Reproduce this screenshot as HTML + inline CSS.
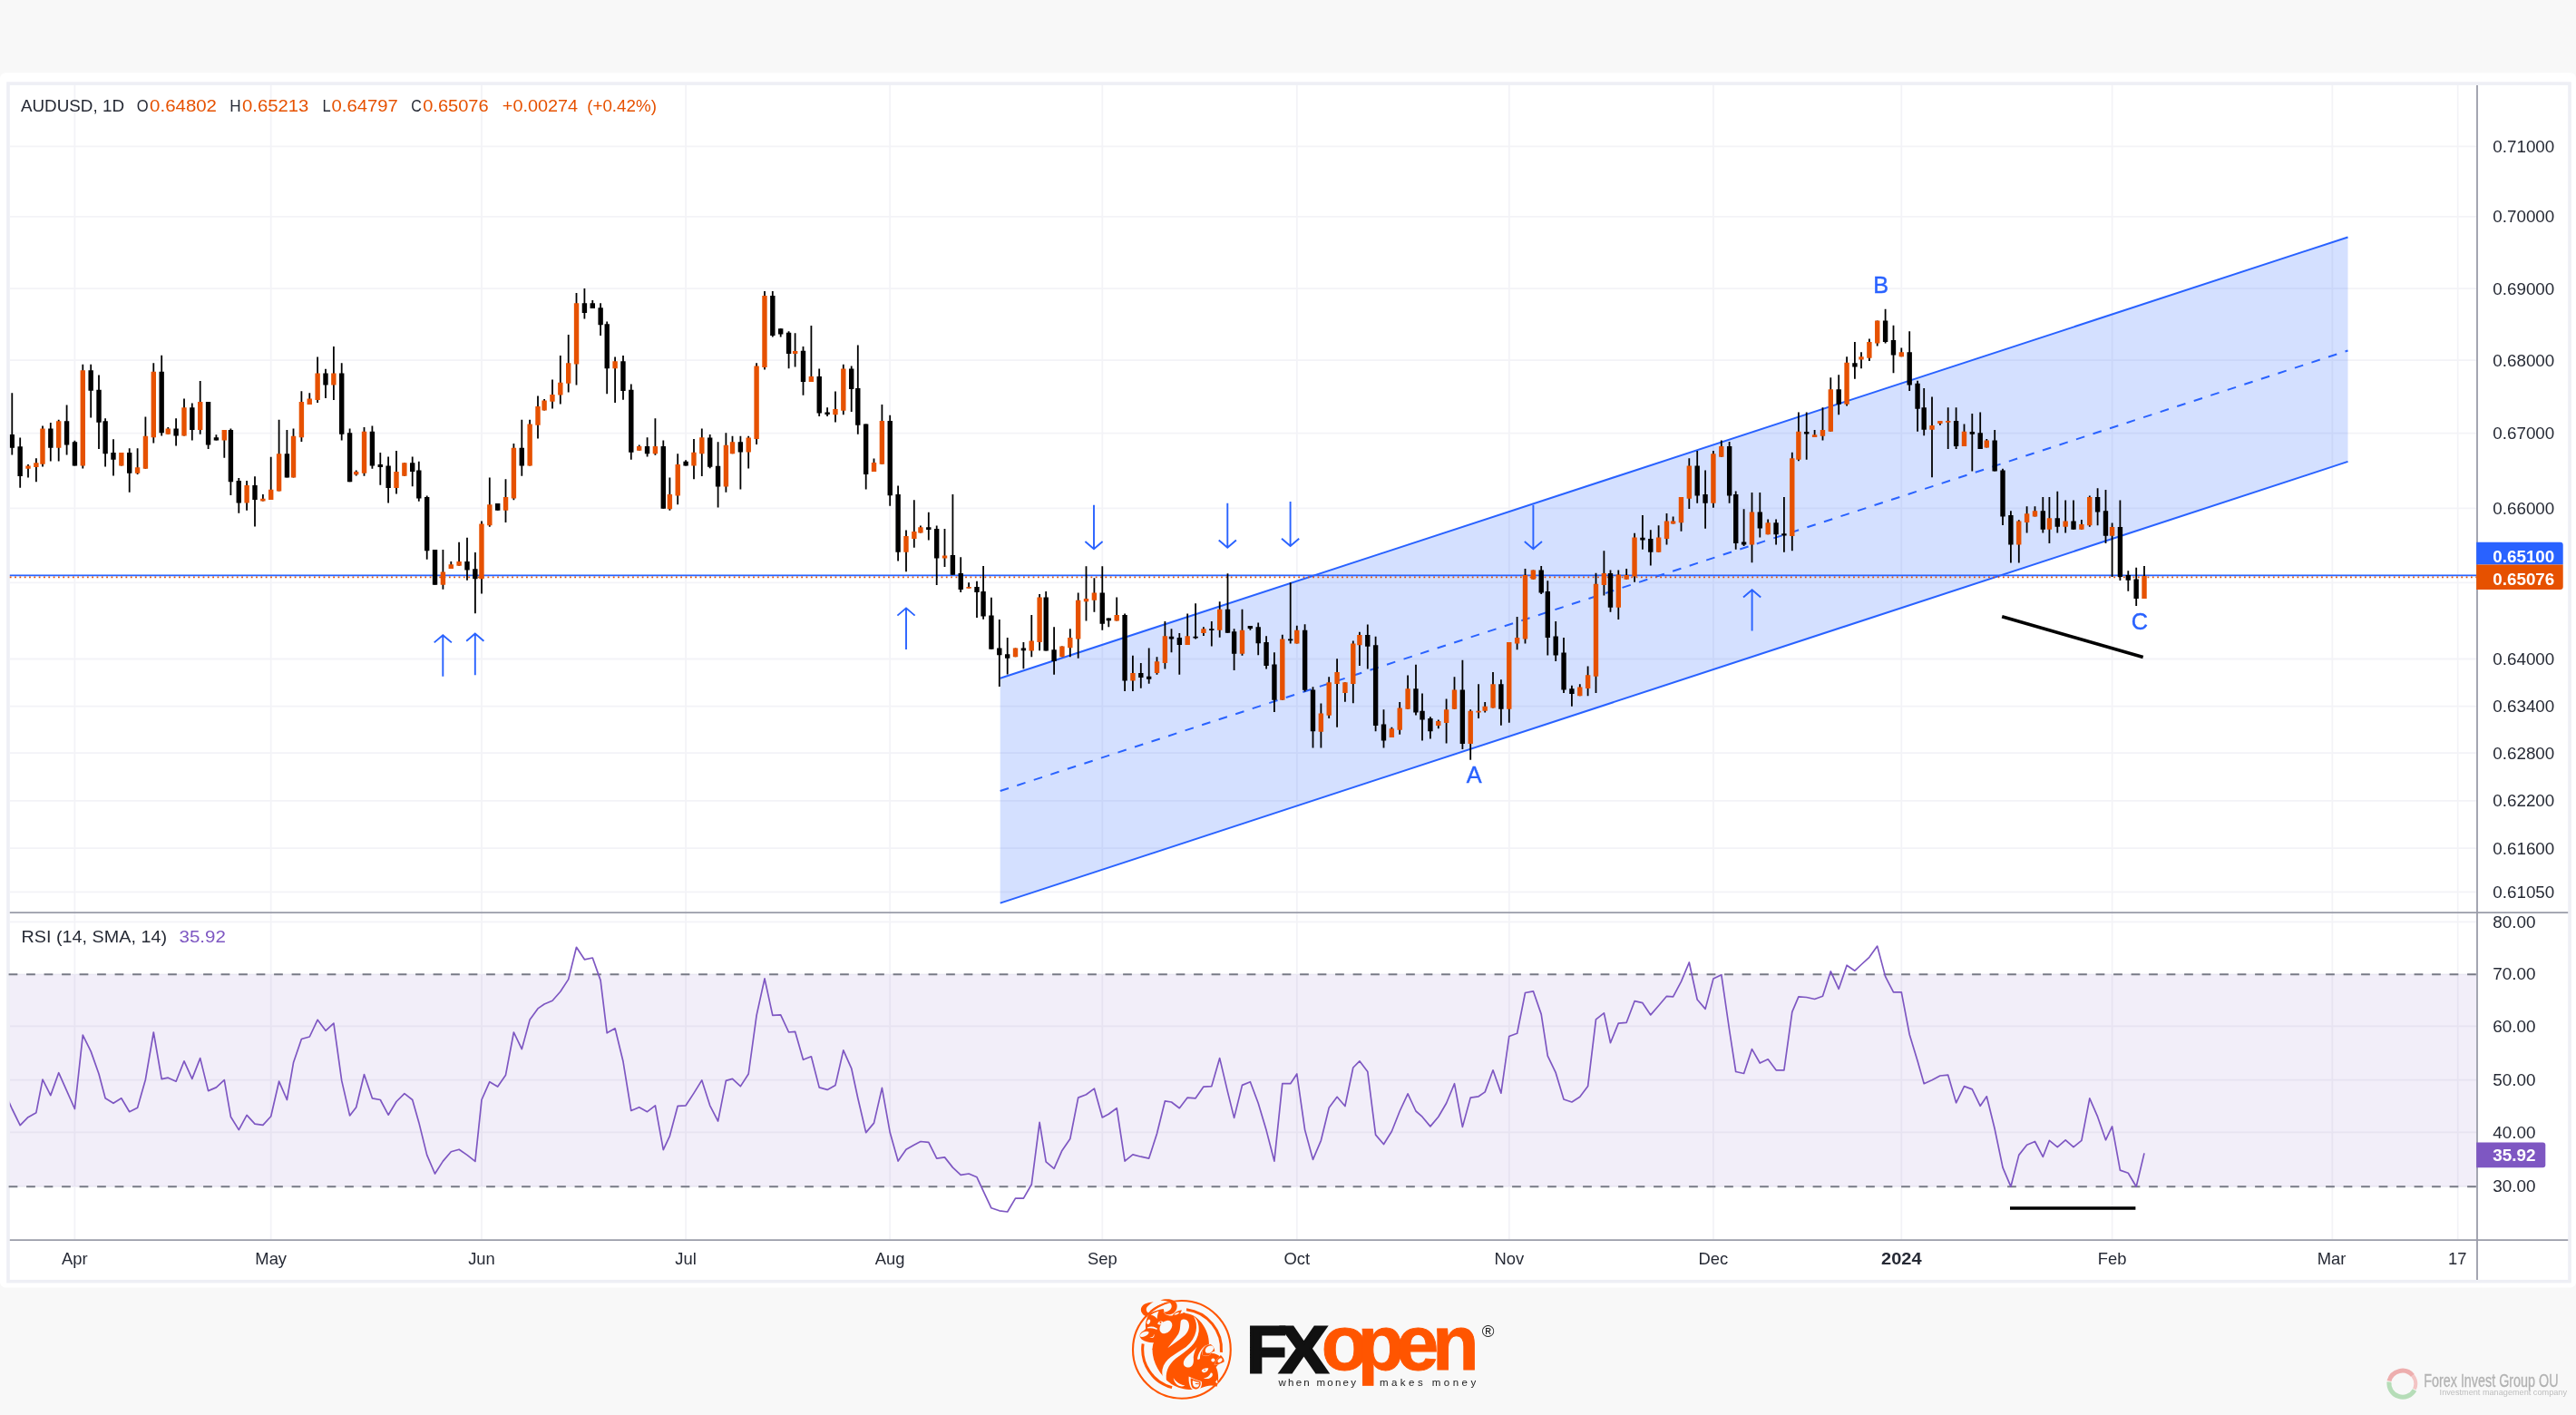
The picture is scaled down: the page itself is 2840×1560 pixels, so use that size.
<!DOCTYPE html>
<html lang="en"><head><meta charset="utf-8"><title>AUDUSD 1D chart</title>
<style>html,body{margin:0;padding:0;background:#f8f8f8;}body{width:2840px;height:1560px;overflow:hidden;font-family:"Liberation Sans", sans-serif;}svg{display:block;position:absolute;left:0;top:0;filter:blur(0.45px);}text{font-family:"Liberation Sans", sans-serif;}</style>
</head><body>
<svg width="2840" height="1560" viewBox="0 0 2840 1560">
<rect x="0" y="0" width="2840" height="1560" fill="#f8f8f8"/>
<rect x="0" y="80.3" width="2840" height="1339.2" rx="6" fill="#ffffff"/>
<rect x="9" y="92.1" width="2824" height="1320.6" fill="#ffffff" stroke="#eeeff5" stroke-width="3.6"/>
<g stroke="#f3f3f7" stroke-width="1.8" fill="none">
<line x1="82.4" y1="93.9" x2="82.4" y2="1366.5"/>
<line x1="298.7" y1="93.9" x2="298.7" y2="1366.5"/>
<line x1="531.0" y1="93.9" x2="531.0" y2="1366.5"/>
<line x1="756.1" y1="93.9" x2="756.1" y2="1366.5"/>
<line x1="981.2" y1="93.9" x2="981.2" y2="1366.5"/>
<line x1="1215.3" y1="93.9" x2="1215.3" y2="1366.5"/>
<line x1="1429.8" y1="93.9" x2="1429.8" y2="1366.5"/>
<line x1="1663.8" y1="93.9" x2="1663.8" y2="1366.5"/>
<line x1="1888.9" y1="93.9" x2="1888.9" y2="1366.5"/>
<line x1="2096.3" y1="93.9" x2="2096.3" y2="1366.5"/>
<line x1="2328.6" y1="93.9" x2="2328.6" y2="1366.5"/>
<line x1="2571.4" y1="93.9" x2="2571.4" y2="1366.5"/>
<line x1="2709.7" y1="93.9" x2="2709.7" y2="1366.5"/>
<line x1="10.8" y1="161.4" x2="2731.0" y2="161.4"/>
<line x1="10.8" y1="238.8" x2="2731.0" y2="238.8"/>
<line x1="10.8" y1="318.1" x2="2731.0" y2="318.1"/>
<line x1="10.8" y1="397.2" x2="2731.0" y2="397.2"/>
<line x1="10.8" y1="477.6" x2="2731.0" y2="477.6"/>
<line x1="10.8" y1="560.3" x2="2731.0" y2="560.3"/>
<line x1="10.8" y1="642.3" x2="2731.0" y2="642.3"/>
<line x1="10.8" y1="726.5" x2="2731.0" y2="726.5"/>
<line x1="10.8" y1="778.7" x2="2731.0" y2="778.7"/>
<line x1="10.8" y1="830.1" x2="2731.0" y2="830.1"/>
<line x1="10.8" y1="882.8" x2="2731.0" y2="882.8"/>
<line x1="10.8" y1="935.2" x2="2731.0" y2="935.2"/>
<line x1="10.8" y1="983.3" x2="2731.0" y2="983.3"/>
<line x1="10.8" y1="1016.4" x2="2731.0" y2="1016.4"/>
<line x1="10.8" y1="1074.2" x2="2731.0" y2="1074.2"/>
<line x1="10.8" y1="1131.3" x2="2731.0" y2="1131.3"/>
<line x1="10.8" y1="1190.6" x2="2731.0" y2="1190.6"/>
<line x1="10.8" y1="1248.4" x2="2731.0" y2="1248.4"/>
<line x1="10.8" y1="1308.2" x2="2731.0" y2="1308.2"/>
</g>
<rect x="10.8" y="1074.2" width="2719.2" height="234" fill="#7e57c2" fill-opacity="0.1"/>
<g stroke="#787b86" stroke-width="1.9" stroke-dasharray="9.75 9.75" fill="none">
<line x1="9.6" y1="1074.2" x2="2730.0" y2="1074.2"/>
<line x1="9.6" y1="1308.2" x2="2730.0" y2="1308.2"/>
</g>
<polygon points="1102.7,747.7 2588.5,261.5 2588.5,508.9 1102.7,995.6" fill="#2962ff" fill-opacity="0.2"/>
<g stroke="#2962ff" stroke-width="2" fill="none" stroke-linecap="butt">
<line x1="1102.7" y1="747.7" x2="2588.5" y2="261.5"/>
<line x1="1102.7" y1="995.6" x2="2588.5" y2="508.9"/>
<line x1="1102.7" y1="872" x2="2588.5" y2="386.5" stroke-dasharray="9.75 9.75"/>
</g>
<line x1="10.8" y1="634.4" x2="2731.0" y2="634.4" stroke="#2962ff" stroke-width="1.9"/>
<line x1="10.8" y1="636.3" x2="2731.0" y2="636.3" stroke="#e65100" stroke-width="1.8" stroke-dasharray="1.77 3.55"/>
<defs><clipPath id="cp"><rect x="10.8" y="93.9" width="2720.2" height="1272.1"/></clipPath></defs>
<g clip-path="url(#cp)">
<path d="M13.3 433.3 V501.6 M22.2 482.6 V537.8 M31.0 512.1 V526.4 M39.9 505.3 V531.3 M47.0 469.4 V514.6 M55.8 466.0 V508.4 M64.7 462.7 V508.4 M73.6 446.4 V501.6 M82.4 485.7 V513.4 M91.3 401.8 V516.5 M100.2 401.8 V460.5 M109.0 413.4 V495.0 M116.1 461.2 V514.6 M125.0 484.2 V524.6 M133.8 498.9 V513.4 M142.7 494.3 V542.8 M151.6 494.3 V523.0 M160.4 459.4 V516.8 M169.3 400.2 V488.5 M178.2 391.8 V480.6 M185.3 470.9 V478.7 M194.1 461.2 V491.6 M203.0 439.4 V480.6 M211.8 444.5 V485.4 M220.7 420.0 V478.7 M229.6 443.0 V495.0 M238.4 479.2 V485.4 M247.3 474.1 V504.8 M254.4 472.5 V546.0 M263.3 526.9 V565.8 M272.1 530.0 V562.7 M281.0 525.2 V580.5 M289.9 545.1 V552.6 M298.7 503.7 V551.0 M307.6 462.7 V541.4 M316.4 474.1 V526.4 M323.5 472.5 V526.4 M332.4 431.3 V487.0 M341.3 433.2 V446.1 M350.1 393.5 V444.0 M359.0 406.7 V439.1 M367.9 381.9 V440.9 M376.7 400.2 V485.4 M385.6 472.5 V531.3 M392.7 518.4 V524.6 M401.5 471.0 V524.8 M410.4 469.5 V516.8 M419.3 499.0 V534.7 M428.1 503.6 V554.6 M437.0 497.1 V544.5 M445.9 510.3 V524.8 M454.7 503.6 V536.3 M461.8 508.8 V552.8 M470.7 546.5 V616.8 M479.5 605.9 V644.8 M488.4 605.9 V649.8 M497.3 619.1 V626.9 M506.1 597.7 V623.8 M515.0 592.7 V639.8 M523.9 609.0 V676.2 M531.0 574.5 V654.6 M539.8 526.6 V580.7 M548.7 554.9 V562.7 M557.5 528.2 V575.9 M566.4 489.0 V551.2 M575.3 462.8 V524.8 M584.1 462.8 V513.4 M593.0 436.5 V483.4 M600.1 439.9 V452.4 M609.0 418.5 V450.5 M617.8 392.0 V445.5 M626.7 369.0 V432.5 M635.5 322.9 V424.4 M644.4 317.9 V351.6 M653.3 331.1 V340.1 M662.1 334.2 V370.0 M669.2 354.4 V434.2 M678.1 393.6 V444.1 M687.0 392.0 V440.7 M695.8 423.6 V506.7 M704.7 490.6 V496.8 M713.6 482.3 V503.6 M722.4 461.2 V501.8 M731.3 485.4 V560.8 M738.4 526.6 V562.7 M747.2 500.2 V556.2 M756.1 507.2 V513.4 M765.0 483.9 V528.2 M773.8 472.6 V525.1 M782.7 479.1 V516.3 M791.6 487.3 V559.4 M800.4 477.2 V542.8 M807.5 480.8 V500.2 M816.4 480.8 V539.6 M825.2 480.8 V516.4 M834.1 400.3 V490.1 M843.0 321.0 V407.6 M851.8 321.0 V371.5 M860.7 362.2 V371.5 M869.6 365.3 V406.2 M876.6 367.2 V404.6 M885.5 382.1 V435.7 M894.4 359.1 V420.9 M903.2 406.5 V458.9 M912.1 449.2 V458.9 M921.0 431.4 V465.6 M929.8 401.8 V457.3 M938.7 403.4 V453.9 M945.8 380.4 V478.8 M954.7 467.4 V539.6 M963.5 505.4 V519.9 M972.4 446.1 V511.7 M981.2 457.8 V557.8 M990.1 535.4 V618.6 M999.0 584.4 V630.3 M1007.8 551.3 V603.8 M1014.9 579.6 V587.5 M1023.8 564.8 V595.6 M1032.7 579.6 V645.0 M1041.5 582.9 V625.1 M1050.4 545.1 V633.7 M1059.2 614.3 V653.1 M1068.1 642.2 V648.5 M1077.0 640.7 V681.1 M1084.1 624.1 V682.7 M1092.9 658.7 V715.7 M1101.8 683.1 V756.9 M1110.7 703.0 V743.4 M1119.5 714.5 V724.3 M1128.4 707.9 V737.2 M1137.3 678.1 V724.3 M1146.1 655.1 V717.3 M1153.2 652.0 V717.6 M1162.1 691.2 V743.7 M1170.9 712.6 V724.3 M1179.8 693.2 V724.3 M1188.7 653.5 V725.8 M1197.5 624.3 V684.6 M1206.4 637.2 V674.8 M1215.3 624.3 V694.7 M1222.3 681.5 V691.2 M1231.2 658.5 V684.6 M1240.1 676.5 V761.9 M1248.9 722.7 V761.9 M1257.8 730.9 V758.8 M1266.7 714.5 V753.8 M1275.5 724.3 V743.7 M1284.4 685.1 V737.5 M1291.5 693.2 V719.3 M1300.3 698.1 V743.7 M1309.2 676.5 V711.0 M1318.1 665.2 V704.5 M1326.9 691.2 V700.9 M1335.8 685.1 V712.6 M1344.7 663.3 V702.8 M1353.5 632.2 V697.8 M1360.6 693.2 V739.0 M1369.5 671.7 V722.7 M1378.4 690.1 V694.7 M1387.2 686.5 V722.2 M1396.1 701.3 V737.5 M1404.9 719.3 V784.9 M1413.8 699.7 V771.7 M1422.7 642.2 V709.5 M1429.8 689.8 V709.5 M1438.6 688.2 V762.4 M1447.5 757.2 V824.5 M1456.4 775.6 V824.5 M1465.2 746.2 V791.9 M1474.1 726.3 V801.7 M1482.9 752.2 V773.7 M1491.8 706.5 V775.3 M1498.9 696.7 V734.1 M1507.8 688.5 V737.6 M1516.6 701.7 V806.3 M1525.5 782.2 V824.5 M1534.4 801.7 V813.0 M1543.2 774.0 V809.8 M1552.1 744.5 V781.8 M1561.0 732.8 V788.5 M1568.0 764.4 V816.4 M1576.9 790.3 V814.6 M1585.8 793.6 V803.2 M1594.6 770.6 V819.6 M1603.5 746.2 V781.8 M1612.4 727.8 V826.1 M1621.2 782.2 V837.7 M1630.1 754.3 V791.9 M1637.2 774.0 V785.4 M1646.0 741.0 V780.4 M1654.9 749.3 V799.8 M1663.8 708.1 V796.7 M1672.6 680.1 V716.2 M1681.5 627.0 V709.6 M1690.4 628.6 V638.7 M1699.2 623.9 V655.0 M1706.3 640.2 V722.4 M1715.2 685.1 V729.1 M1724.0 703.0 V763.9 M1732.9 755.8 V778.8 M1741.8 754.3 V767.2 M1750.6 734.5 V767.2 M1759.5 631.7 V763.9 M1768.4 607.3 V656.6 M1775.5 628.6 V674.7 M1784.3 628.6 V683.0 M1793.2 627.0 V638.7 M1802.1 587.7 V641.8 M1810.9 567.9 V605.7 M1819.8 584.3 V623.6 M1828.6 579.3 V608.8 M1837.5 566.1 V600.6 M1844.6 569.5 V577.6 M1853.5 548.0 V585.8 M1862.3 505.3 V560.9 M1871.2 496.9 V554.7 M1880.1 518.5 V582.7 M1888.9 496.9 V559.7 M1897.8 485.5 V503.7 M1906.6 487.1 V554.7 M1913.7 541.5 V605.7 M1922.6 561.3 V602.1 M1931.5 543.1 V620.3 M1940.3 543.1 V592.5 M1949.2 572.6 V589.2 M1958.1 572.6 V600.6 M1966.9 548.0 V608.8 M1975.8 498.8 V607.3 M1982.9 454.4 V508.3 M1991.7 454.4 V506.8 M2000.6 474.1 V481.9 M2009.5 449.2 V485.5 M2018.3 416.3 V475.7 M2027.2 413.2 V457.3 M2036.1 393.3 V447.4 M2044.9 377.0 V417.7 M2052.0 388.3 V406.2 M2060.9 373.5 V397.9 M2069.7 353.6 V381.6 M2078.6 340.7 V378.5 M2087.5 358.8 V411.2 M2096.3 383.5 V393.3 M2105.2 365.3 V431.1 M2114.1 419.7 V475.7 M2121.2 427.9 V480.3 M2130.0 437.6 V526.3 M2138.9 464.0 V468.7 M2147.7 449.2 V495.1 M2156.6 449.2 V495.1 M2165.5 467.6 V492.0 M2174.3 455.9 V519.6 M2183.2 454.4 V495.1 M2190.3 483.9 V493.5 M2199.2 474.1 V519.6 M2208.0 516.8 V579.0 M2216.9 563.2 V620.4 M2225.8 573.3 V620.4 M2234.6 558.2 V587.6 M2243.5 558.2 V569.4 M2252.3 548.1 V587.6 M2259.4 548.1 V598.9 M2268.3 541.7 V587.6 M2277.2 551.5 V587.6 M2286.0 551.5 V583.8 M2294.9 573.0 V583.8 M2303.8 546.5 V580.7 M2312.6 538.3 V579.2 M2321.5 539.9 V598.9 M2328.6 576.4 V635.9 M2337.4 551.5 V640.1 M2346.3 629.2 V651.8 M2355.2 625.7 V668.1 M2364.0 624.1 V659.9" stroke="#000" stroke-width="1.8" fill="none"/>
<path d="M28.32 513.4 h5.4 v3.4 h-5.4 z M37.19 510.3 h5.4 v4.6 h-5.4 z M44.28 472.5 h5.4 v39.3 h-5.4 z M62.01 464.3 h5.4 v29.5 h-5.4 z M88.60 408.3 h5.4 v105.1 h-5.4 z M131.15 498.9 h5.4 v14.5 h-5.4 z M148.87 515.3 h5.4 v6.5 h-5.4 z M157.74 480.7 h5.4 v36.1 h-5.4 z M166.60 409.8 h5.4 v72.5 h-5.4 z M182.56 472.5 h5.4 v6.2 h-5.4 z M200.29 449.2 h5.4 v31.4 h-5.4 z M218.01 443.0 h5.4 v31.1 h-5.4 z M244.61 474.1 h5.4 v11.3 h-5.4 z M269.42 535.0 h5.4 v19.4 h-5.4 z M287.15 549.8 h5.4 v2.8 h-5.4 z M296.02 539.8 h5.4 v11.2 h-5.4 z M304.88 500.2 h5.4 v41.2 h-5.4 z M320.84 480.7 h5.4 v45.7 h-5.4 z M329.70 443.0 h5.4 v39.3 h-5.4 z M338.56 439.4 h5.4 v6.7 h-5.4 z M347.43 411.4 h5.4 v29.5 h-5.4 z M365.16 411.4 h5.4 v13.2 h-5.4 z M389.98 519.9 h5.4 v3.4 h-5.4 z M398.84 475.7 h5.4 v46.0 h-5.4 z M434.30 520.1 h5.4 v17.9 h-5.4 z M443.16 510.3 h5.4 v14.5 h-5.4 z M485.71 630.5 h5.4 v14.3 h-5.4 z M494.57 622.2 h5.4 v4.7 h-5.4 z M503.43 619.1 h5.4 v4.7 h-5.4 z M528.25 577.6 h5.4 v60.7 h-5.4 z M537.12 556.2 h5.4 v23.0 h-5.4 z M554.85 548.1 h5.4 v14.6 h-5.4 z M563.71 493.7 h5.4 v55.9 h-5.4 z M581.44 467.6 h5.4 v45.8 h-5.4 z M590.30 448.0 h5.4 v20.7 h-5.4 z M597.39 441.5 h5.4 v10.9 h-5.4 z M606.26 434.9 h5.4 v7.8 h-5.4 z M615.12 421.7 h5.4 v13.9 h-5.4 z M623.98 400.3 h5.4 v22.5 h-5.4 z M632.85 334.2 h5.4 v67.2 h-5.4 z M675.40 398.3 h5.4 v7.9 h-5.4 z M701.99 492.1 h5.4 v4.7 h-5.4 z M719.72 492.1 h5.4 v8.1 h-5.4 z M735.67 545.0 h5.4 v16.2 h-5.4 z M744.54 511.9 h5.4 v34.6 h-5.4 z M762.26 498.7 h5.4 v14.7 h-5.4 z M771.13 482.3 h5.4 v17.9 h-5.4 z M797.72 490.8 h5.4 v45.7 h-5.4 z M804.81 487.3 h5.4 v12.9 h-5.4 z M822.54 482.4 h5.4 v16.1 h-5.4 z M831.40 403.4 h5.4 v80.5 h-5.4 z M840.27 326.0 h5.4 v78.9 h-5.4 z M873.95 387.1 h5.4 v2.8 h-5.4 z M891.68 415.0 h5.4 v5.9 h-5.4 z M918.27 451.1 h5.4 v6.2 h-5.4 z M927.13 406.5 h5.4 v46.2 h-5.4 z M960.82 510.1 h5.4 v9.8 h-5.4 z M969.68 464.0 h5.4 v47.7 h-5.4 z M996.27 590.9 h5.4 v17.9 h-5.4 z M1005.14 586.0 h5.4 v8.1 h-5.4 z M1012.23 581.2 h5.4 v6.3 h-5.4 z M1038.82 612.4 h5.4 v3.1 h-5.4 z M1065.41 646.9 h5.4 v1.8 h-5.4 z M1116.82 714.5 h5.4 v9.8 h-5.4 z M1134.55 706.4 h5.4 v11.2 h-5.4 z M1143.42 658.5 h5.4 v49.4 h-5.4 z M1168.23 712.6 h5.4 v11.7 h-5.4 z M1177.10 703.0 h5.4 v11.2 h-5.4 z M1185.96 661.8 h5.4 v42.6 h-5.4 z M1194.83 660.1 h5.4 v3.1 h-5.4 z M1203.69 653.5 h5.4 v8.3 h-5.4 z M1228.51 678.1 h5.4 v6.5 h-5.4 z M1246.24 742.1 h5.4 v8.3 h-5.4 z M1272.83 729.2 h5.4 v12.9 h-5.4 z M1281.69 701.3 h5.4 v29.6 h-5.4 z M1306.51 701.3 h5.4 v9.7 h-5.4 z M1324.24 693.2 h5.4 v4.9 h-5.4 z M1341.97 671.7 h5.4 v23.0 h-5.4 z M1366.79 694.7 h5.4 v26.1 h-5.4 z M1411.11 704.5 h5.4 v67.2 h-5.4 z M1427.06 694.7 h5.4 v14.8 h-5.4 z M1453.66 786.4 h5.4 v20.3 h-5.4 z M1462.52 752.2 h5.4 v36.6 h-5.4 z M1471.38 741.0 h5.4 v13.0 h-5.4 z M1480.25 752.2 h5.4 v11.7 h-5.4 z M1489.11 709.6 h5.4 v44.4 h-5.4 z M1496.20 699.9 h5.4 v11.3 h-5.4 z M1531.66 803.2 h5.4 v9.8 h-5.4 z M1540.52 780.4 h5.4 v24.4 h-5.4 z M1549.39 759.2 h5.4 v22.6 h-5.4 z M1583.07 795.1 h5.4 v5.0 h-5.4 z M1591.93 782.2 h5.4 v14.8 h-5.4 z M1600.80 760.5 h5.4 v21.3 h-5.4 z M1618.53 783.8 h5.4 v36.1 h-5.4 z M1627.39 783.8 h5.4 v1.8 h-5.4 z M1634.48 778.8 h5.4 v5.0 h-5.4 z M1643.34 754.3 h5.4 v26.1 h-5.4 z M1661.07 708.1 h5.4 v73.7 h-5.4 z M1669.94 703.0 h5.4 v6.6 h-5.4 z M1678.80 634.0 h5.4 v70.5 h-5.4 z M1687.66 628.6 h5.4 v10.1 h-5.4 z M1739.08 757.4 h5.4 v9.8 h-5.4 z M1747.94 744.2 h5.4 v14.7 h-5.4 z M1756.80 643.8 h5.4 v101.9 h-5.4 z M1765.67 632.0 h5.4 v12.9 h-5.4 z M1781.62 633.5 h5.4 v36.3 h-5.4 z M1790.49 634.0 h5.4 v4.7 h-5.4 z M1799.35 592.5 h5.4 v43.1 h-5.4 z M1825.94 592.5 h5.4 v16.3 h-5.4 z M1834.81 574.5 h5.4 v19.6 h-5.4 z M1841.90 574.5 h5.4 v3.1 h-5.4 z M1850.76 548.0 h5.4 v28.2 h-5.4 z M1859.63 513.5 h5.4 v36.3 h-5.4 z M1886.22 500.3 h5.4 v54.4 h-5.4 z M1895.08 492.1 h5.4 v11.6 h-5.4 z M1928.77 564.5 h5.4 v36.1 h-5.4 z M1946.49 576.2 h5.4 v13.0 h-5.4 z M1973.09 505.3 h5.4 v85.6 h-5.4 z M1980.18 475.7 h5.4 v31.1 h-5.4 z M1997.90 479.2 h5.4 v2.7 h-5.4 z M2006.77 474.1 h5.4 v6.7 h-5.4 z M2015.63 429.3 h5.4 v46.4 h-5.4 z M2033.36 399.8 h5.4 v46.0 h-5.4 z M2049.32 393.3 h5.4 v3.1 h-5.4 z M2058.18 377.0 h5.4 v17.8 h-5.4 z M2067.04 353.6 h5.4 v24.9 h-5.4 z M2093.64 388.3 h5.4 v5.0 h-5.4 z M2127.32 469.1 h5.4 v4.7 h-5.4 z M2136.18 464.0 h5.4 v3.1 h-5.4 z M2145.05 464.0 h5.4 v1.8 h-5.4 z M2162.78 475.7 h5.4 v16.3 h-5.4 z M2187.59 485.5 h5.4 v8.0 h-5.4 z M2223.05 574.5 h5.4 v26.0 h-5.4 z M2231.91 566.3 h5.4 v9.8 h-5.4 z M2240.78 563.2 h5.4 v6.2 h-5.4 z M2256.73 571.3 h5.4 v12.5 h-5.4 z M2274.46 574.5 h5.4 v6.2 h-5.4 z M2292.19 577.9 h5.4 v5.9 h-5.4 z M2301.05 548.1 h5.4 v31.1 h-5.4 z M2325.87 581.0 h5.4 v9.7 h-5.4 z M2361.33 635.1 h5.4 v24.8 h-5.4 z" fill="#e65100"/>
<path d="M10.60 479.0 h5.4 v14.8 h-5.4 z M19.46 492.2 h5.4 v32.7 h-5.4 z M53.14 472.5 h5.4 v21.3 h-5.4 z M70.87 464.3 h5.4 v26.1 h-5.4 z M79.74 487.3 h5.4 v26.1 h-5.4 z M97.46 408.3 h5.4 v22.5 h-5.4 z M106.33 429.7 h5.4 v36.1 h-5.4 z M113.42 464.3 h5.4 v35.9 h-5.4 z M122.28 498.9 h5.4 v7.8 h-5.4 z M140.01 498.9 h5.4 v22.9 h-5.4 z M175.47 409.8 h5.4 v67.4 h-5.4 z M191.42 472.5 h5.4 v8.1 h-5.4 z M209.15 449.2 h5.4 v24.9 h-5.4 z M226.88 443.0 h5.4 v47.4 h-5.4 z M235.74 482.3 h5.4 v3.1 h-5.4 z M251.70 474.1 h5.4 v57.2 h-5.4 z M260.56 530.0 h5.4 v24.4 h-5.4 z M278.29 535.0 h5.4 v16.0 h-5.4 z M313.74 500.2 h5.4 v26.2 h-5.4 z M356.29 411.4 h5.4 v13.2 h-5.4 z M374.02 411.4 h5.4 v67.3 h-5.4 z M382.88 477.2 h5.4 v54.1 h-5.4 z M407.70 475.7 h5.4 v37.7 h-5.4 z M416.57 511.9 h5.4 v3.1 h-5.4 z M425.43 513.4 h5.4 v24.6 h-5.4 z M452.02 510.3 h5.4 v9.8 h-5.4 z M459.11 518.6 h5.4 v31.0 h-5.4 z M467.98 548.1 h5.4 v59.1 h-5.4 z M476.84 605.9 h5.4 v38.9 h-5.4 z M512.30 619.1 h5.4 v9.4 h-5.4 z M521.16 627.2 h5.4 v11.1 h-5.4 z M545.98 554.9 h5.4 v7.8 h-5.4 z M572.57 493.7 h5.4 v19.7 h-5.4 z M641.71 334.2 h5.4 v10.9 h-5.4 z M650.58 334.2 h5.4 v5.9 h-5.4 z M659.44 339.2 h5.4 v19.1 h-5.4 z M666.53 357.2 h5.4 v49.0 h-5.4 z M684.26 398.3 h5.4 v32.6 h-5.4 z M693.12 429.8 h5.4 v68.9 h-5.4 z M710.85 492.1 h5.4 v8.1 h-5.4 z M728.58 492.1 h5.4 v68.7 h-5.4 z M753.40 508.8 h5.4 v4.6 h-5.4 z M779.99 482.4 h5.4 v32.4 h-5.4 z M788.86 513.8 h5.4 v22.7 h-5.4 z M813.67 487.3 h5.4 v11.2 h-5.4 z M849.13 326.0 h5.4 v44.0 h-5.4 z M857.99 362.2 h5.4 v6.2 h-5.4 z M866.86 366.8 h5.4 v23.1 h-5.4 z M882.81 386.7 h5.4 v34.2 h-5.4 z M900.54 415.0 h5.4 v40.5 h-5.4 z M909.41 454.4 h5.4 v2.6 h-5.4 z M936.00 406.5 h5.4 v22.5 h-5.4 z M943.09 427.9 h5.4 v40.8 h-5.4 z M951.95 467.4 h5.4 v55.6 h-5.4 z M978.54 464.0 h5.4 v82.3 h-5.4 z M987.41 545.1 h5.4 v63.7 h-5.4 z M1021.09 581.2 h5.4 v2.7 h-5.4 z M1029.96 582.9 h5.4 v32.6 h-5.4 z M1047.68 611.9 h5.4 v21.8 h-5.4 z M1056.55 632.1 h5.4 v17.9 h-5.4 z M1074.28 646.9 h5.4 v6.2 h-5.4 z M1081.37 652.0 h5.4 v27.6 h-5.4 z M1090.23 678.4 h5.4 v37.3 h-5.4 z M1099.10 714.5 h5.4 v7.7 h-5.4 z M1107.96 721.2 h5.4 v4.6 h-5.4 z M1125.69 714.5 h5.4 v2.8 h-5.4 z M1150.51 658.5 h5.4 v59.1 h-5.4 z M1159.37 716.2 h5.4 v12.7 h-5.4 z M1212.55 653.5 h5.4 v34.2 h-5.4 z M1219.65 681.5 h5.4 v2.8 h-5.4 z M1237.37 678.1 h5.4 v72.3 h-5.4 z M1255.10 742.1 h5.4 v5.0 h-5.4 z M1263.97 745.7 h5.4 v3.1 h-5.4 z M1288.78 701.7 h5.4 v2.8 h-5.4 z M1297.65 703.0 h5.4 v8.0 h-5.4 z M1315.38 701.7 h5.4 v1.8 h-5.4 z M1333.10 693.2 h5.4 v1.8 h-5.4 z M1350.83 671.7 h5.4 v26.1 h-5.4 z M1357.92 696.3 h5.4 v24.5 h-5.4 z M1375.65 690.1 h5.4 v2.8 h-5.4 z M1384.52 691.2 h5.4 v18.0 h-5.4 z M1393.38 707.9 h5.4 v26.2 h-5.4 z M1402.24 732.5 h5.4 v39.2 h-5.4 z M1419.97 704.5 h5.4 v1.8 h-5.4 z M1435.93 694.7 h5.4 v66.1 h-5.4 z M1444.79 760.5 h5.4 v45.7 h-5.4 z M1505.07 699.9 h5.4 v12.9 h-5.4 z M1513.93 711.2 h5.4 v88.9 h-5.4 z M1522.79 798.6 h5.4 v17.8 h-5.4 z M1558.25 759.2 h5.4 v26.2 h-5.4 z M1565.34 783.8 h5.4 v9.8 h-5.4 z M1574.21 792.0 h5.4 v14.3 h-5.4 z M1609.66 760.5 h5.4 v59.4 h-5.4 z M1652.21 754.3 h5.4 v27.5 h-5.4 z M1696.53 628.6 h5.4 v24.8 h-5.4 z M1703.62 651.9 h5.4 v51.1 h-5.4 z M1712.48 701.4 h5.4 v21.0 h-5.4 z M1721.35 719.6 h5.4 v40.9 h-5.4 z M1730.21 759.2 h5.4 v5.9 h-5.4 z M1772.76 632.0 h5.4 v37.8 h-5.4 z M1808.22 592.8 h5.4 v2.8 h-5.4 z M1817.08 594.1 h5.4 v14.7 h-5.4 z M1868.49 513.5 h5.4 v33.0 h-5.4 z M1877.35 545.1 h5.4 v9.6 h-5.4 z M1903.95 492.1 h5.4 v54.4 h-5.4 z M1911.04 545.1 h5.4 v53.9 h-5.4 z M1919.90 597.5 h5.4 v3.1 h-5.4 z M1937.63 564.5 h5.4 v17.9 h-5.4 z M1955.36 576.2 h5.4 v13.0 h-5.4 z M1964.22 588.2 h5.4 v2.3 h-5.4 z M1989.04 476.1 h5.4 v2.4 h-5.4 z M2024.50 429.3 h5.4 v16.5 h-5.4 z M2042.22 400.3 h5.4 v4.3 h-5.4 z M2075.91 353.6 h5.4 v23.4 h-5.4 z M2084.77 375.1 h5.4 v16.3 h-5.4 z M2102.50 388.3 h5.4 v36.1 h-5.4 z M2111.36 422.8 h5.4 v28.0 h-5.4 z M2118.46 449.2 h5.4 v24.6 h-5.4 z M2153.91 464.0 h5.4 v28.0 h-5.4 z M2171.64 476.1 h5.4 v2.7 h-5.4 z M2180.50 477.2 h5.4 v17.9 h-5.4 z M2196.46 485.5 h5.4 v34.1 h-5.4 z M2205.32 518.6 h5.4 v50.8 h-5.4 z M2214.19 568.1 h5.4 v32.4 h-5.4 z M2249.64 563.2 h5.4 v20.6 h-5.4 z M2265.60 571.3 h5.4 v9.4 h-5.4 z M2283.33 574.5 h5.4 v9.3 h-5.4 z M2309.92 548.1 h5.4 v16.3 h-5.4 z M2318.78 563.2 h5.4 v27.5 h-5.4 z M2334.74 581.0 h5.4 v54.9 h-5.4 z M2343.60 633.9 h5.4 v5.9 h-5.4 z M2352.46 638.6 h5.4 v21.3 h-5.4 z" fill="#000"/>
</g>
<path d="M488.3 745.7 V700.2 M478.7 708.4 L488.3 700.2 L497.9 708.4 M523.8 744.2 V698.5 M514.2 706.7 L523.8 698.5 L533.4 706.7 M999.0 715.9 V670.4 M989.4 678.6 L999.0 670.4 L1008.6 678.6 M1931.6 695.5 V650.3 M1922.0 658.5 L1931.6 650.3 L1941.2 658.5 M1206.0 556.8 V605.2 M1196.4 597.0 L1206.0 605.2 L1215.6 597.0 M1353.3 554.8 V603.7 M1343.7 595.5 L1353.3 603.7 L1362.9 595.5 M1422.6 553.0 V602.0 M1413.0 593.8 L1422.6 602.0 L1432.2 593.8 M1690.4 556.8 V605.2 M1680.8 597.0 L1690.4 605.2 L1700.0 597.0" stroke="#2962ff" stroke-width="1.9" fill="none" stroke-linejoin="miter"/>
<line x1="2207.2" y1="679.8" x2="2362.7" y2="724.4" stroke="#000" stroke-width="3.6"/>
<line x1="2216" y1="1332" x2="2354.4" y2="1332" stroke="#000" stroke-width="3.6"/>
<g fill="#2962ff" stroke="#2962ff" stroke-width="0.4" font-size="25.3px" text-anchor="middle">
<text x="1625.2" y="862.5">A</text>
<text x="2073.8" y="322.5">B</text>
<text x="2358.8" y="694.2">C</text>
</g>
<g clip-path="url(#cp)"><polyline points="8.8,1212.5 13.3,1222.5 22.2,1240.6 31.0,1231.7 39.9,1226.7 47.0,1190.2 55.8,1207.6 64.7,1182.7 73.6,1202.6 82.4,1222.5 91.3,1141.2 100.2,1159.1 109.0,1184.0 116.1,1210.8 125.0,1216.3 133.8,1210.8 142.7,1225.7 151.6,1221.2 160.4,1190.2 169.3,1138.0 178.2,1189.7 185.3,1188.2 194.1,1192.2 203.0,1169.8 211.8,1189.4 220.7,1166.6 229.6,1202.6 238.4,1198.9 247.3,1190.7 254.4,1231.2 263.3,1245.6 272.1,1229.4 281.0,1239.1 289.9,1240.4 298.7,1230.7 307.6,1192.2 316.4,1212.5 323.5,1171.6 332.4,1145.5 341.3,1143.0 350.1,1124.3 359.0,1136.3 367.9,1128.1 376.7,1191.4 385.6,1229.9 392.7,1220.7 401.5,1184.5 410.4,1210.8 419.3,1212.5 428.1,1229.2 437.0,1214.5 445.9,1205.6 454.7,1212.5 461.8,1237.4 470.7,1273.4 479.5,1294.0 488.4,1280.1 497.3,1269.7 506.1,1267.2 515.0,1273.4 523.9,1280.4 531.0,1212.5 539.8,1192.7 548.7,1198.1 557.5,1185.2 566.4,1138.0 575.3,1156.6 584.1,1124.3 593.0,1111.9 600.1,1107.0 609.0,1103.2 617.8,1093.3 626.7,1079.6 635.5,1044.3 644.4,1057.8 653.3,1056.0 662.1,1080.9 669.2,1138.8 678.1,1133.8 687.0,1170.3 695.8,1224.5 704.7,1220.7 713.6,1225.7 722.4,1218.8 731.3,1267.7 738.4,1252.3 747.2,1219.3 756.1,1218.8 765.0,1205.1 773.8,1190.9 782.7,1218.8 791.6,1236.1 800.4,1191.4 807.5,1189.4 816.4,1197.6 825.2,1184.0 834.1,1119.4 843.0,1078.9 851.8,1119.4 860.7,1118.9 869.6,1138.0 876.6,1137.3 885.5,1168.3 894.4,1164.8 903.2,1198.9 912.1,1201.4 921.0,1196.4 929.8,1157.9 938.7,1177.8 945.8,1210.8 954.7,1248.6 963.5,1238.1 972.4,1199.4 981.2,1248.6 990.1,1280.1 999.0,1267.2 1007.8,1262.2 1014.9,1258.5 1023.8,1259.3 1032.7,1277.1 1041.5,1275.9 1050.4,1287.1 1059.2,1295.3 1068.1,1294.0 1077.0,1297.8 1084.1,1313.2 1092.9,1331.8 1101.8,1334.8 1110.7,1336.0 1119.5,1321.1 1128.4,1321.1 1137.3,1305.7 1146.1,1237.4 1153.2,1280.9 1162.1,1288.3 1170.9,1268.4 1179.8,1255.5 1188.7,1210.1 1197.5,1206.8 1206.4,1200.1 1215.3,1231.9 1222.3,1228.2 1231.2,1221.7 1240.1,1280.1 1248.9,1272.9 1257.8,1275.2 1266.7,1277.1 1275.5,1249.8 1284.4,1213.8 1291.5,1215.0 1300.3,1221.7 1309.2,1210.1 1318.1,1210.8 1326.9,1198.1 1335.8,1197.6 1344.7,1166.6 1353.5,1203.9 1360.6,1232.4 1369.5,1196.4 1378.4,1192.7 1387.2,1216.3 1396.1,1246.1 1404.9,1280.1 1413.8,1194.7 1422.7,1194.7 1429.8,1184.0 1438.6,1245.6 1447.5,1278.4 1456.4,1257.3 1465.2,1221.2 1474.1,1209.3 1482.9,1219.5 1491.8,1177.0 1498.9,1169.8 1507.8,1181.5 1516.6,1251.1 1525.5,1261.5 1534.4,1247.3 1543.2,1225.0 1552.1,1205.8 1561.0,1225.0 1568.0,1231.2 1576.9,1241.9 1585.8,1231.2 1594.6,1216.3 1603.5,1194.7 1612.4,1242.4 1621.2,1210.1 1630.1,1208.8 1637.2,1203.9 1646.0,1179.8 1654.9,1205.1 1663.8,1142.5 1672.6,1139.3 1681.5,1094.5 1690.4,1092.8 1699.2,1118.1 1706.3,1164.1 1715.2,1182.7 1724.0,1212.0 1732.9,1215.0 1741.8,1209.3 1750.6,1197.6 1759.5,1123.9 1768.4,1116.9 1775.5,1149.7 1784.3,1128.1 1793.2,1127.3 1802.1,1103.7 1810.9,1105.7 1819.8,1118.9 1828.6,1108.7 1837.5,1098.3 1844.6,1098.8 1853.5,1082.1 1862.3,1061.0 1871.2,1102.0 1880.1,1112.4 1888.9,1079.1 1897.8,1074.7 1906.6,1135.5 1913.7,1181.5 1922.6,1183.5 1931.5,1156.6 1940.3,1172.0 1949.2,1167.8 1958.1,1179.8 1966.9,1179.8 1975.8,1115.7 1982.9,1098.8 1991.7,1099.5 2000.6,1101.5 2009.5,1098.3 2018.3,1070.9 2027.2,1090.3 2036.1,1064.2 2044.9,1070.2 2052.0,1063.5 2060.9,1055.3 2069.7,1043.1 2078.6,1076.6 2087.5,1093.8 2096.3,1093.8 2105.2,1140.5 2114.1,1169.8 2121.2,1194.7 2130.0,1190.7 2138.9,1186.0 2147.7,1185.2 2156.6,1215.8 2165.5,1197.6 2174.3,1200.9 2183.2,1219.3 2190.3,1208.8 2199.2,1244.8 2208.0,1287.1 2216.9,1308.2 2225.8,1273.4 2234.6,1262.2 2243.5,1258.5 2252.3,1275.4 2259.4,1257.3 2268.3,1264.7 2277.2,1256.8 2286.0,1264.7 2294.9,1257.3 2303.8,1210.8 2312.6,1231.2 2321.5,1256.8 2328.6,1241.9 2337.4,1290.1 2346.3,1293.3 2355.2,1308.2 2364.0,1271.4" fill="none" stroke="#7e57c2" stroke-width="1.7" stroke-linejoin="round"/></g>
<g stroke="#9a9ca9" stroke-width="1.8" fill="none">
<line x1="10.8" y1="1006.2" x2="2831.2" y2="1006.2"/>
<line x1="10.8" y1="1367.2" x2="2831.2" y2="1367.2"/>
<line x1="2731.0" y1="93.9" x2="2731.0" y2="1411.0"/>
</g>
<g fill="#262a35" font-size="18.4px">
<text x="2748.3" y="168.0" textLength="68" lengthAdjust="spacingAndGlyphs">0.71000</text>
<text x="2748.3" y="245.4" textLength="68" lengthAdjust="spacingAndGlyphs">0.70000</text>
<text x="2748.3" y="324.7" textLength="68" lengthAdjust="spacingAndGlyphs">0.69000</text>
<text x="2748.3" y="403.8" textLength="68" lengthAdjust="spacingAndGlyphs">0.68000</text>
<text x="2748.3" y="484.2" textLength="68" lengthAdjust="spacingAndGlyphs">0.67000</text>
<text x="2748.3" y="566.9" textLength="68" lengthAdjust="spacingAndGlyphs">0.66000</text>
<text x="2748.3" y="733.1" textLength="68" lengthAdjust="spacingAndGlyphs">0.64000</text>
<text x="2748.3" y="785.3" textLength="68" lengthAdjust="spacingAndGlyphs">0.63400</text>
<text x="2748.3" y="836.7" textLength="68" lengthAdjust="spacingAndGlyphs">0.62800</text>
<text x="2748.3" y="889.4" textLength="68" lengthAdjust="spacingAndGlyphs">0.62200</text>
<text x="2748.3" y="941.8" textLength="68" lengthAdjust="spacingAndGlyphs">0.61600</text>
<text x="2748.3" y="989.9" textLength="68" lengthAdjust="spacingAndGlyphs">0.61050</text>
<text x="2748.3" y="1022.5" textLength="47.3" lengthAdjust="spacingAndGlyphs">80.00</text>
<text x="2748.3" y="1080.4" textLength="47.3" lengthAdjust="spacingAndGlyphs">70.00</text>
<text x="2748.3" y="1137.9" textLength="47.3" lengthAdjust="spacingAndGlyphs">60.00</text>
<text x="2748.3" y="1197.2" textLength="47.3" lengthAdjust="spacingAndGlyphs">50.00</text>
<text x="2748.3" y="1255.0" textLength="47.3" lengthAdjust="spacingAndGlyphs">40.00</text>
<text x="2748.3" y="1314.4" textLength="47.3" lengthAdjust="spacingAndGlyphs">30.00</text>
</g>
<path d="M2730.2 597.7 H2822.7 a3 3 0 0 1 3 3 V622.6 H2730.2 Z" fill="#2962ff"/>
<path d="M2730.2 622.6 H2825.7 V646.9 a3 3 0 0 1 -3 3 H2730.2 Z" fill="#e65100"/>
<path d="M2730.2 1259.6 H2803.3 a3 3 0 0 1 3 3 V1284.3 a3 3 0 0 1 -3 3 H2730.2 Z" fill="#7e57c2"/>
<g fill="#fff" font-size="18.4px" font-weight="bold">
<text x="2748.3" y="619.6" textLength="68" lengthAdjust="spacingAndGlyphs">0.65100</text>
<text x="2748.3" y="644.5" textLength="68" lengthAdjust="spacingAndGlyphs">0.65076</text>
<text x="2748.3" y="1280.4" textLength="47.3" lengthAdjust="spacingAndGlyphs">35.92</text>
</g>
<g fill="#262a35" font-size="18.4px" text-anchor="middle">
<text x="82.4" y="1394.4">Apr</text>
<text x="298.7" y="1394.4">May</text>
<text x="531.0" y="1394.4">Jun</text>
<text x="756.1" y="1394.4">Jul</text>
<text x="981.2" y="1394.4">Aug</text>
<text x="1215.3" y="1394.4">Sep</text>
<text x="1429.8" y="1394.4">Oct</text>
<text x="1663.8" y="1394.4">Nov</text>
<text x="1888.9" y="1394.4">Dec</text>
<text x="2328.6" y="1394.4">Feb</text>
<text x="2570.5" y="1394.4">Mar</text>
<text x="2709.3" y="1394.4">17</text>
<text x="2096.3" y="1394.4" font-weight="bold" textLength="44.5" lengthAdjust="spacingAndGlyphs">2024</text>
</g>
<g font-size="18.4px">
<text x="22.9" y="122.8" fill="#262a35" textLength="114.1" lengthAdjust="spacingAndGlyphs">AUDUSD, 1D</text>
<text x="150.8" y="122.8" fill="#262a35" textLength="12.9" lengthAdjust="spacingAndGlyphs">O</text>
<text x="165.1" y="122.8" fill="#e65100" textLength="73.9" lengthAdjust="spacingAndGlyphs">0.64802</text>
<text x="253.3" y="122.8" fill="#262a35" textLength="12.4" lengthAdjust="spacingAndGlyphs">H</text>
<text x="267.1" y="122.8" fill="#e65100" textLength="73.3" lengthAdjust="spacingAndGlyphs">0.65213</text>
<text x="355.6" y="122.8" fill="#262a35" textLength="9.2" lengthAdjust="spacingAndGlyphs">L</text>
<text x="365.6" y="122.8" fill="#e65100" textLength="73.3" lengthAdjust="spacingAndGlyphs">0.64797</text>
<text x="453.3" y="122.8" fill="#262a35" textLength="11.5" lengthAdjust="spacingAndGlyphs">C</text>
<text x="466.2" y="122.8" fill="#e65100" textLength="72.4" lengthAdjust="spacingAndGlyphs">0.65076</text>
<text x="553.8" y="122.8" fill="#e65100" textLength="83.3" lengthAdjust="spacingAndGlyphs">+0.00274</text>
<text x="647.2" y="122.8" fill="#e65100" textLength="76.7" lengthAdjust="spacingAndGlyphs">(+0.42%)</text>
<text x="23.6" y="1038.9" fill="#262a35" textLength="160.4" lengthAdjust="spacingAndGlyphs">RSI (14, SMA, 14)</text>
<text x="197.5" y="1038.9" fill="#7e57c2" textLength="51.4" lengthAdjust="spacingAndGlyphs">35.92</text>
</g>
<!-- FXOpen logo -->
<g id="fxlogo">
<g transform="translate(1240,1425) scale(0.08832)" fill="#ff5500" stroke="none">
<circle cx="712" cy="712" r="610" fill="none" stroke="#ff5500" stroke-width="24"/>
<path d="M770 212 A500 500 0 0 1 1205 745" fill="none" stroke="#ff5500" stroke-width="34"/>
<path d="M228 640 A492 492 0 0 0 590 1185" fill="none" stroke="#ff5500" stroke-width="34"/>
<!-- body -->
<path d="M640 290 C720 230 860 250 960 380 C1050 500 1075 640 1030 760 C1100 740 1200 780 1240 850 C1200 880 1160 900 1140 930 C1175 1000 1175 1100 1150 1175 C1090 1150 1030 1160 960 1190 C880 1225 700 1220 580 1140 C430 1030 330 840 348 680 C355 620 380 590 420 570 Z"/>
<!-- head (H coords) -->
<g transform="translate(113.2,34) scale(0.48)">
<path d="M395 485 C480 430 620 380 770 355 C790 400 790 440 800 470 C860 520 940 540 1000 530 C1060 440 1140 400 1245 385 C1240 440 1200 500 1150 530 L1300 450 C1420 480 1510 600 1525 760 C1540 920 1460 1040 1330 1130 C1180 1230 980 1320 850 1415 L480 1415 C500 1340 530 1280 570 1225 C450 1240 300 1220 210 1150 C130 1080 140 1000 230 940 C270 910 300 890 310 860 C300 800 300 720 330 640 C345 590 365 530 395 485 Z"/>
<path d="M340 560 C190 505 110 330 290 225 C360 190 430 180 510 168 C410 235 320 295 325 375 C330 420 360 450 400 468 Z"/>
<path d="M430 395 C550 300 700 220 865 185 C720 260 580 330 470 410 Z"/>
<path d="M690 128 C800 90 960 80 1060 150 C1160 230 1140 380 1040 460 C960 520 840 520 780 440 C830 440 900 420 950 370 C1010 300 990 210 900 170 C840 145 760 135 690 128 Z" stroke="#f8f8f8" stroke-width="14" paint-order="stroke"/>
<g fill="#f8f8f8">
<path d="M440 505 C500 470 580 440 650 415 C620 480 610 550 605 615 C570 560 520 520 440 505 Z"/>
<ellipse cx="385" cy="690" rx="40" ry="68" transform="rotate(25 385 690)"/>
<path d="M615 745 C640 680 700 650 770 690 C760 760 680 790 615 745 Z"/>
<ellipse cx="835" cy="825" rx="140" ry="190" transform="rotate(42 835 825)"/>
<path d="M350 835 C420 800 520 800 610 860 L600 895 C520 850 430 845 360 860 Z"/>
<ellipse cx="275" cy="1010" rx="125" ry="58" transform="rotate(-25 275 1010)"/>
<path d="M410 1085 C460 1110 530 1080 520 1000 C560 1080 480 1150 410 1085 Z"/>
<path d="M1040 505 C1080 460 1130 440 1185 440 C1160 490 1110 515 1040 505 Z"/>
</g>
<circle cx="695" cy="708" r="24"/>
</g>
<!-- small bull horn/ear (S coords) -->
<g transform="translate(622.6,566) scale(0.48)">
<path d="M730 440 C700 300 800 180 940 165 C1000 200 1040 280 1045 340 C980 360 930 390 910 440 C850 470 780 470 730 440 Z" stroke="#f8f8f8" stroke-width="16" paint-order="stroke"/>
<path d="M1040 700 C1080 600 1120 520 1200 450 C1260 500 1290 560 1290 620 C1220 660 1130 690 1040 700 Z" stroke="#f8f8f8" stroke-width="14" paint-order="stroke"/>
</g>
<g fill="#f8f8f8">
<path d="M860 295 C925 410 905 560 765 680 C625 780 500 820 470 960 C458 1040 488 1100 525 1125 C500 1000 540 900 640 820 C780 720 905 640 925 480 C930 395 905 335 860 295 Z"/>
<path d="M701 351 C728 322 776 332 795 370 C819 428 795 495 728 552 C665 605 584 653 536 694 C564 648 632 576 670 514 C699 461 689 399 701 351 Z"/>
<path d="M608 1068 C618 1150 700 1192 752 1160 C690 1150 640 1120 608 1068 Z"/>
<g transform="translate(622.6,566) scale(0.48)">
<path d="M600 185 C560 330 300 450 240 600 C200 720 300 790 400 760 C500 720 500 600 490 500 C500 380 560 280 600 185 Z"/>
<path d="M835 175 C700 250 610 400 590 555 C620 570 650 560 660 530 C660 400 720 270 835 175 Z"/>
<ellipse cx="905" cy="300" rx="120" ry="85" transform="rotate(-35 905 300)"/>
<circle cx="1000" cy="580" r="48"/>
<ellipse cx="1180" cy="585" rx="70" ry="45" transform="rotate(-40 1180 585)"/>
<path d="M700 850 C740 790 820 770 880 790 C870 860 800 910 760 900 C730 895 710 880 700 850 Z"/>
<path d="M750 1050 C850 1040 920 980 940 910 C980 900 1000 940 980 990 C940 1060 840 1080 750 1050 Z"/>
<path d="M1060 1150 L1110 1080 L1120 1190 Z"/>
<path d="M370 1000 C480 1060 600 1100 700 1130 C720 1200 700 1290 640 1340 C560 1390 460 1360 420 1300 C380 1220 360 1100 370 1000 Z"/>
</g>
</g>
<g transform="translate(622.6,566) scale(0.48)">
<circle cx="782" cy="838" r="16"/>
<path d="M420 1045 C500 1085 590 1115 670 1140 C690 1200 670 1270 620 1310 C560 1350 480 1330 450 1280 C420 1210 410 1120 420 1045 Z"/>
<path d="M470 1110 C520 1130 590 1145 640 1160 C650 1200 640 1250 600 1280 C550 1300 500 1270 480 1230 C465 1190 462 1150 470 1110 Z" fill="#f8f8f8"/>
<path d="M540 1180 L640 1185 L640 1210 L540 1205 Z"/>
</g>
</g>
<text x="1374.8" y="1513.1" font-size="71.5px" font-weight="bold" fill="#111111" stroke="#111111" stroke-width="3">F</text>
<text transform="translate(1410.7,1513.1) scale(1.12,1)" x="0" y="0" font-size="71.5px" font-weight="bold" fill="#111111" stroke="#111111" stroke-width="2.8">X</text>
<clipPath id="opc"><rect x="1440" y="1440" width="220" height="87.8"/></clipPath><g clip-path="url(#opc)"><text x="1456.7" y="1510.4" font-size="84.5px" font-weight="bold" fill="#ff5500" stroke="#ff5500" stroke-width="0.9">o<tspan dx="-11.8">p</tspan><tspan dx="-9">e</tspan><tspan dx="-7.1">n</tspan></text></g>
<g font-size="11.5px" fill="#1a1a1a">
<text x="1409.4" y="1527.6" textLength="85.6" lengthAdjust="spacing">when money</text>
<text x="1520.9" y="1527.6" textLength="106.3" lengthAdjust="spacing">makes money</text>
</g>
<text x="1640.5" y="1474.2" font-size="18.6px" fill="#222222" text-anchor="middle">®</text>
<!-- watermark -->
<g opacity="0.55">
<g transform="translate(0,1.5)"><path d="M2634 1521 A15 15 0 0 1 2660 1515" fill="none" stroke="#e57373" stroke-width="5"/>
<path d="M2660 1515 A15 15 0 0 1 2662 1530" fill="none" stroke="#ef9a9a" stroke-width="4"/>
<path d="M2634 1522 A15 15 0 0 0 2662 1531" fill="none" stroke="#81c784" stroke-width="5"/>
</g></g>
<text x="2672.2" y="1529" font-size="21px" fill="#b2b2b2" stroke="#b2b2b2" stroke-width="0.35" textLength="148.4" lengthAdjust="spacingAndGlyphs">Forex Invest Group OU</text>
<text x="2689.6" y="1537.6" font-size="9.6px" fill="#bdbdbd" textLength="140.4" lengthAdjust="spacingAndGlyphs">Investment management company</text>
</g>

</svg></body></html>
